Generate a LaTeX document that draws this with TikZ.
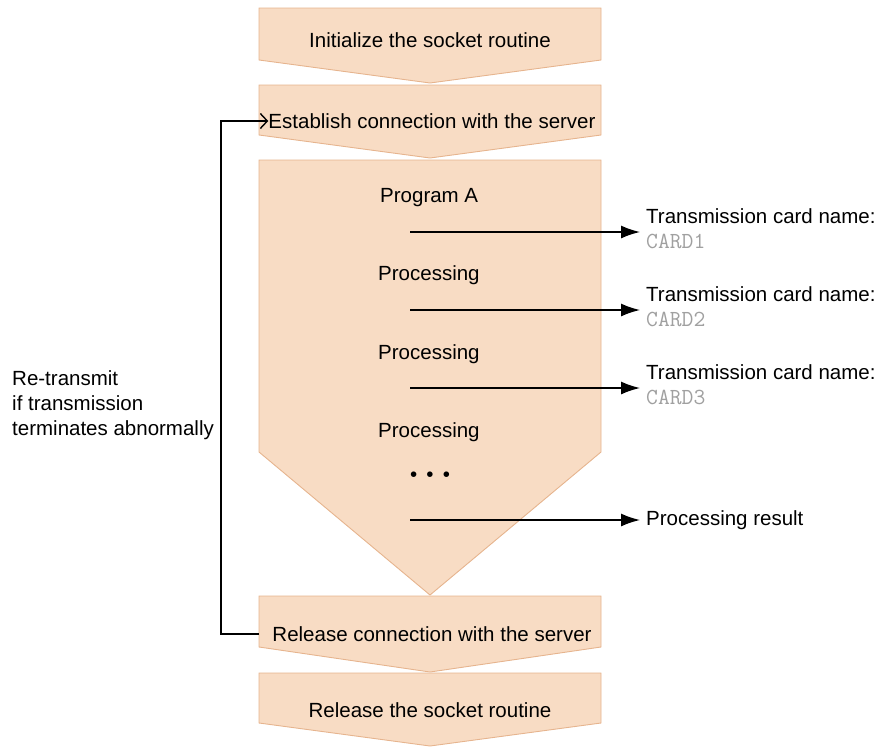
\documentclass[tikz,border=0pt]{standalone}
\usepackage{fontspec}
\setmainfont{Liberation Sans}
\usetikzlibrary{arrows.meta, positioning}
\definecolor{chevfill}{HTML}{F8DCC4}
\definecolor{chevline}{HTML}{E6B48E}
\definecolor{cardgray}{HTML}{A0A0A0}
\newcommand{\cardname}[1]{{\fontsize{23}{25}\selectfont\ttfamily\color{cardgray}#1}}
\tikzset{
  chevron/.style={fill=chevfill, draw=chevline, line width=0.9pt},
  label/.style={font=\fontsize{20.5}{25}\selectfont, inner sep=0pt},
  target/.style={label, anchor=west, align=left, inner sep=6pt},
  flow/.style={line width=1.5pt, -{Latex[length=19pt,width=13pt]}},
  retry/.style={line width=1.4pt, -{Straight Barb[length=7pt,width=15pt]}}
}

\begin{document}
\begin{tikzpicture}[x=1pt, y=-1pt]
		\useasboundingbox (0,0) rectangle (882,747);
		% steps before and after
		\foreach \t/\s/\b in {8/60/83, 85/135/158, 596/647/672, 673/723/746}
			\draw[chevron] (259,\t) -- (601,\t) -- (601,\s) -- (430,\b) -- (259,\s) -- cycle;
		% program A
		\draw[chevron] (259,160) -- (601,160) -- (601,452) -- (430,595) -- (259,452) -- cycle;
		\node[label] (init) at (430,40) {Initialize the socket routine};
		\node[label] (estab) at (432,121) {Establish connection with the server};
		\node[label] (relconn) at (432,634) {Release connection with the server};
		\node[label] (relsock) at (430,710) {Release the socket routine};
		\node[label, anchor=west] (prog) at (380,198) {Program A};
		\node[label, anchor=west] (proc1) at (378,275) {Processing};
		\node[label, anchor=west] (proc2) at (378,354) {Processing};
		\node[label, anchor=west] (proc3) at (378,432) {Processing};
		\node[label] (dots) at (430,477) {•\hspace{0.45em}•\hspace{0.45em}•};
		% sent cards
		\node[target] (card1) at (640,229) {Transmission card name:\\\cardname{CARD1}};
		\node[target] (card2) at (640,307) {Transmission card name:\\\cardname{CARD2}};
		\node[target] (card3) at (640,385) {Transmission card name:\\\cardname{CARD3}};
		\node[target] (result) at (640,520) {Processing result};
		\coordinate (s1) at (410,232);
		\coordinate (s2) at (410,310);
		\coordinate (s3) at (410,388);
		\coordinate (s4) at (410,520);
		\draw[flow] (s1) -- (s1 -| card1.west);
		\draw[flow] (s2) -- (s2 -| card2.west);
		\draw[flow] (s3) -- (s3 -| card3.west);
		\draw[flow] (s4) -- (result.west);
		% re-transmission loop
		\coordinate (back) at (221,634);
		\node[label, anchor=north west, align=left] (retx) at (12,370) {Re-transmit\\if transmission\\terminates abnormally};
		\draw[retry] (259,634) -- (back) |- (estab.west);
	\end{tikzpicture}
\end{document}
